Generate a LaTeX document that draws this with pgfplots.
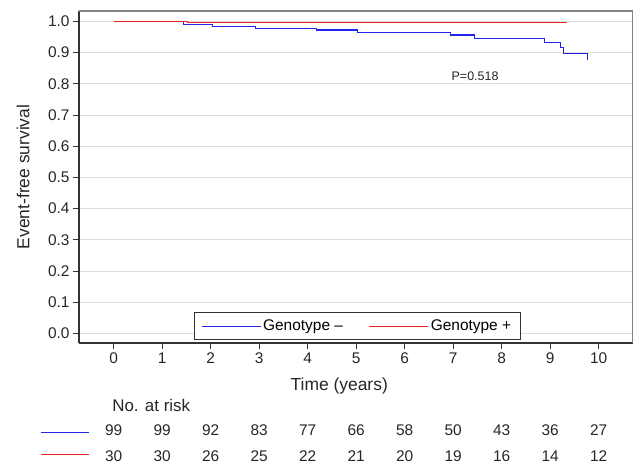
\documentclass[border=0pt]{standalone}
\usepackage{fontspec}
\setmainfont{Liberation Sans}
\usepackage{pgfplots}
\pgfplotsset{compat=1.18}

\definecolor{kmblue}{RGB}{35,35,240}
\definecolor{kmred}{RGB}{235,35,35}
\definecolor{framegray}{RGB}{130,130,130}

\begin{document}
\begin{tikzpicture}
\begin{axis}[
  scale only axis, width=553.7bp, height=332bp,
  xmin=-0.715, xmax=10.7, ymin=-0.031, ymax=1.033,
  axis x line*=bottom, axis y line*=left,
  axis line style={line width=1.1pt, black!80},
  xtick={0,1,...,10}, ytick={0,0.1,...,1.0},
  yticklabel style={/pgf/number format/.cd,fixed,fixed zerofill,precision=1},
  /pgf/number format/assume math mode=true,
  ticklabel style={font=\fontsize{15.5}{18}\selectfont, black!85},
  tick align=outside, major tick length=6bp,
  tick style={black!80, line width=0.8pt},
  ymajorgrids, major grid style={gray!25, line width=0.8pt},
  xlabel={Time (years)}, ylabel={Event-free survival},
  label style={font=\fontsize{17.5}{20}\selectfont, black!85},
  xlabel style={at={(axis description cs:0.47,-0.1286)}, anchor=center},
  ylabel style={at={(axis description cs:-0.101,0.5)}, anchor=center},
  clip=false,
  legend columns=2,
  legend style={at={(axis cs:5.02,0.023)}, anchor=center, draw=black!80, line width=0.8pt,
    font=\fontsize{15.5}{18}\selectfont, inner xsep=7bp, inner ysep=5.5bp,
    /tikz/every even column/.append style={column sep=24bp}},
  legend image code/.code={\draw[#1, line width=0.9pt] (0bp,0bp) -- (59bp,0bp);},
]
\addplot[const plot, kmblue, line width=1.1pt] coordinates {
  (0,1) (1.44,0.990) (2.03,0.984) (2.92,0.978) (4.19,0.972) (5.02,0.965)
  (6.95,0.956) (7.43,0.944) (8.89,0.931) (9.22,0.917) (9.27,0.897) (9.77,0.876)};
\addlegendentry{Genotype –}
\addplot[const plot, kmred, line width=1.1pt] coordinates {
  (0,1) (1.53,0.995) (9.34,0.995)};
\addlegendentry{Genotype +}

% number at risk table
\addplot[only marks, mark=none, nodes near coords, point meta=explicit symbolic,
  nodes near coords style={anchor=center, font=\fontsize{15.5}{18}\selectfont, black!85}, forget plot]
  coordinates {(0,-0.310)[99] (1,-0.310)[99] (2,-0.310)[92] (3,-0.310)[83] (4,-0.310)[77]
  (5,-0.310)[66] (6,-0.310)[58] (7,-0.310)[50] (8,-0.310)[43] (9,-0.310)[36] (10,-0.310)[27]};
\addplot[only marks, mark=none, nodes near coords, point meta=explicit symbolic,
  nodes near coords style={anchor=center, font=\fontsize{15.5}{18}\selectfont, black!85}, forget plot]
  coordinates {(0,-0.395)[30] (1,-0.395)[30] (2,-0.395)[26] (3,-0.395)[25] (4,-0.395)[22]
  (5,-0.395)[21] (6,-0.395)[20] (7,-0.395)[19] (8,-0.395)[16] (9,-0.395)[14] (10,-0.395)[12]};
\addplot[kmblue, line width=1.1pt, forget plot] coordinates {(-1.50,-0.3175) (-0.51,-0.3175)};
\addplot[kmred, line width=1.1pt, forget plot] coordinates {(-1.50,-0.3895) (-0.51,-0.3895)};

\node[anchor=west, font=\fontsize{17}{20}\selectfont, black!85] at (axis cs:-0.10,-0.23) {No. at risk};
\node[font=\fontsize{12.5}{15}\selectfont, black!85] at (axis cs:7.45,0.825) {P=0.518};

\draw[framegray, line width=1.1pt] (rel axis cs:0,1) -- (rel axis cs:1,1) -- (rel axis cs:1,0);
\path ([xshift=-79bp,yshift=-124bp]rel axis cs:0,0) rectangle ([xshift=2.3bp,yshift=11bp]rel axis cs:1,1);
\end{axis}
\end{tikzpicture}
\end{document}
